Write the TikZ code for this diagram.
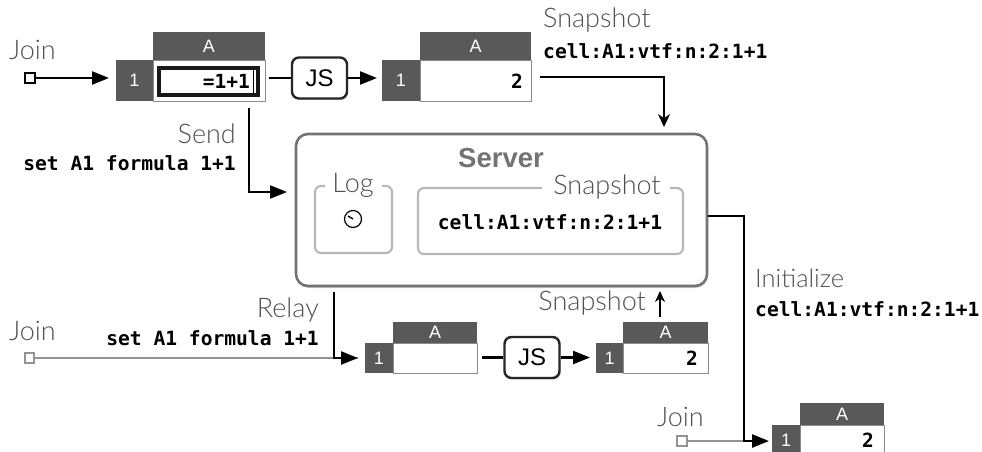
\documentclass[tikz,border=0pt]{standalone}
\usepackage{fontspec}
\setmainfont{Lato Light}
\setsansfont{Liberation Sans}
\newfontfamily\codef{DejaVu Sans Mono}
\usetikzlibrary{arrows.meta,shadows,calc}
\definecolor{hdr}{HTML}{595959}
\definecolor{lbl}{HTML}{505050}
\tikzset{
  hdrcell/.style={fill=hdr,draw=none,inner sep=0,text=white,font=\sffamily\fontsize{18}{18}\selectfont},
  valcell/.style={fill=white,draw=hdr!70,line width=.8pt,inner sep=0},
  lab/.style={inner sep=0,text=lbl,font=\fontsize{27}{27}\selectfont},
  code/.style={inner sep=0,font=\codef\bfseries\fontsize{19.6}{19.6}\selectfont},
  val/.style={inner sep=0,font=\codef\bfseries\fontsize{19.5}{19.5}\selectfont},
  flow/.style={line width=2.4pt,-{Triangle[length=17pt,width=13pt]}},
  plain/.style={line width=2.4pt},
  gflow/.style={draw=gray!85,line width=2.4pt},
  jsbox/.style={draw=black!85,line width=2.4pt,rounded corners=7pt,fill=white,inner sep=0,font=\sffamily\fontsize{24}{24}\selectfont,drop shadow={shadow xshift=1pt,shadow yshift=-1.5pt,opacity=.3}},
  innerbox/.style={draw=black!28,line width=2.2pt,rounded corners=6pt},
  start/.style={draw=black,fill=white,line width=2.4pt,minimum size=9.5pt,inner sep=0},
  gstart/.style={draw=gray!85,fill=white,line width=2.4pt,minimum size=9.5pt,inner sep=0}
}
\newcommand{\cellblock}[7]{% name, x0(row hdr left), x1(col left), x2(right), y0, y1, y2
  \node[valcell,minimum width=#4 pt-#3 pt,minimum height=#7 pt-#6 pt] (#1v) at ({(#3+#4)/2},{(#6+#7)/2}) {};
  \node[hdrcell,minimum width=#4 pt-#3 pt,minimum height=#6 pt-#5 pt] (#1h) at ({(#3+#4)/2},{(#5+#6)/2}) {A};
  \node[hdrcell,minimum width=#3 pt-#2 pt,minimum height=#7 pt-#6 pt] (#1r) at ({(#2+#3)/2},{(#6+#7)/2}) {1};
}
\begin{document}
\begin{tikzpicture}[x=1pt,y=-1pt]
\useasboundingbox (0,0) rectangle (982,452);
% tables
\cellblock{ta}{116}{153}{265}{32}{60.5}{101}
\node[draw=black!90,line width=4pt,minimum width=99pt,minimum height=27pt,inner sep=0,fill=white] (edit) at (208.5,81.5) {};
\node[val,anchor=east] (editv) at (250,81) {=1+1};
\draw[line width=.9pt] (253,68) -- (253,95);
\cellblock{tb}{382}{420}{531}{32}{60.5}{101}
\node[val,anchor=east] (tbval) at (523,81) {2};
\cellblock{tc}{365}{393}{477}{322}{343}{373}
\cellblock{td}{596}{623}{708}{322}{343}{373}
\node[val,anchor=east] (tdval) at (698,358) {2};
\cellblock{te}{772}{800}{884}{403}{425}{455}
\node[val,anchor=east] (teval) at (874,440) {2};
% server
\node[draw=black!55,line width=2.6pt,rounded corners=12pt,fill=white,minimum width=411pt,minimum height=152pt,inner sep=0,drop shadow={shadow xshift=1pt,shadow yshift=-2pt,opacity=.3}] (server) at (501.5,210) {};
\node[inner sep=0,text=black!55,font=\sffamily\bfseries\fontsize{27.5}{27.5}\selectfont] (servert) at (501,158) {Server};
\draw[innerbox] (325,186) -- (315,186) -- (315,253) -- (392,253) -- (392,186) -- (382,186);
\node[lab] (logt) at (353,185) {Log};
\draw[innerbox] (542,188) -- (418,188) -- (418,254) -- (683,254) -- (683,188) -- (670,188);
\node[lab] (snapin) at (607,187) {Snapshot};
\node[code] (cellin) at (550,222) {cell:A1:vtf:n:2:1+1};
\node[draw=black,line width=1.2pt,circle,minimum size=17pt,inner sep=0] (clock) at (353,219) {};
\draw[line width=1.4pt] (clock.center) -- ++(-5,-3);
% js boxes
\node[jsbox,minimum width=55pt,minimum height=41pt] (js1) at (319.5,78) {JS};
\node[jsbox,minimum width=55pt,minimum height=41pt] (js2) at (532,357.5) {JS};
% labels
\node[lab,anchor=west] (j1) at (9,50) {Join};
\node[lab,anchor=east] (sendt) at (236,134) {Send};
\node[code,anchor=east] (sendc) at (236,163) {set A1 formula 1+1};
\node[lab,anchor=west] (snt) at (543,20) {Snapshot};
\node[code,anchor=west] (snc) at (543,51) {cell:A1:vtf:n:2:1+1};
\node[lab,anchor=east] (relt) at (319,310) {Relay};
\node[code,anchor=east] (relc) at (319,338) {set A1 formula 1+1};
\node[lab,anchor=west] (j2) at (9,331) {Join};
\node[lab,anchor=east] (sn2) at (646,303) {Snapshot};
\node[lab,anchor=west,font=\fontsize{25.5}{25.5}\selectfont] (init) at (755,278) {Initialize};
\node[code,anchor=west] (inc) at (755,309) {cell:A1:vtf:n:2:1+1};
\node[lab,anchor=west] (j3) at (657,417) {Join};
% start points
\node[start] (s1) at (30,78) {};
\node[gstart] (s2) at (29.5,358) {};
\node[gstart] (s3) at (682,441) {};
% anchors for connectors
\coordinate (a1) at (109,78);
\coordinate (jsin) at (269,78);
\coordinate (jsout) at (377,78);
\coordinate (sendfrom) at (249,108);
\coordinate (sendto) at (287,192);
\coordinate (snfrom) at (540,77);
\coordinate (snto) at (664,127);
\coordinate (relfrom) at (334,292);
\coordinate (relto) at (358,358);
\coordinate (js2in) at (482,357.5);
\coordinate (js2out) at (590,357.5);
\coordinate (upfrom) at (660,317);
\coordinate (upto) at (660,291);
\coordinate (inifrom) at (708,216);
\coordinate (inibend) at (744,216);
\coordinate (inito) at (769,441);
\coordinate (g3end) at (744,441);
% connectors
\draw[flow] (s1) -- (a1);
\draw[plain] (jsin) -- (js1);
\draw[flow] (js1) -- (jsout);
\draw[flow] (sendfrom) |- (sendto);
\draw[line width=2.4pt,-{Stealth[length=13pt,width=12pt]}] (snfrom) -| (snto);
\draw[gflow] (s2) -- (relto);
\draw[gflow] (s3) -- (g3end);
\draw[flow] (relfrom) |- (relto);
\draw[plain] (js2in) -- (js2);
\draw[flow] (js2) -- (js2out);
\draw[line width=2.4pt,-{Stealth[length=11pt,width=10pt]}] (upfrom) -- (upto);
\draw[flow] (inifrom) -- (inibend) |- (inito);
\end{tikzpicture}
\end{document}
